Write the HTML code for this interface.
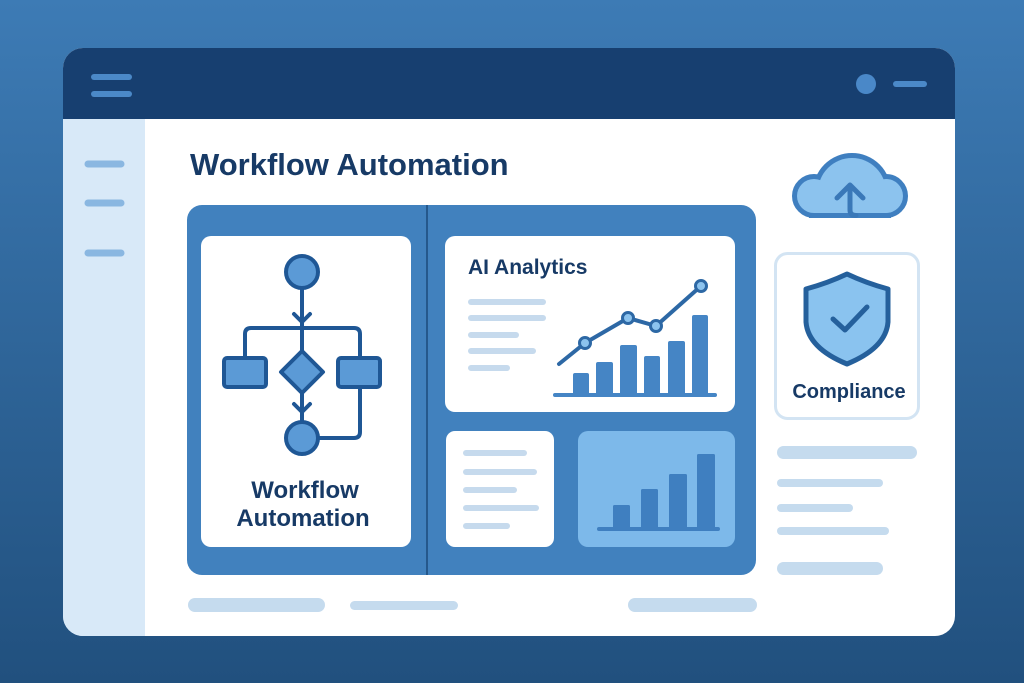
<!DOCTYPE html>
<html>
<head>
<meta charset="utf-8">
<style>
  html,body{margin:0;padding:0;width:1024px;height:683px;overflow:hidden;}
  svg{display:block;}
  text{font-family:"Liberation Sans",Arial,sans-serif;font-weight:bold;fill:#173a66;}
</style>
</head>
<body>
<svg width="1024" height="683" viewBox="0 0 1024 683" xmlns="http://www.w3.org/2000/svg">
  <defs>
    <linearGradient id="bg" x1="0" y1="0" x2="0" y2="1">
      <stop offset="0" stop-color="#3d7bb5"/>
      <stop offset="1" stop-color="#21507e"/>
    </linearGradient>
    <clipPath id="win">
      <rect x="63" y="48" width="892" height="588" rx="20" ry="20"/>
    </clipPath>
    <clipPath id="cloudOuter">
      <rect x="780" y="130" width="140" height="88"/>
    </clipPath>
    <clipPath id="cloudInner">
      <rect x="780" y="130" width="140" height="83"/>
    </clipPath>
  </defs>

  <!-- background -->
  <rect x="0" y="0" width="1024" height="683" fill="url(#bg)"/>

  <!-- window -->
  <g clip-path="url(#win)">
    <rect x="63" y="48" width="892" height="588" fill="#ffffff"/>
    <rect x="63" y="48" width="892" height="71" fill="#173f70"/>
    <rect x="63" y="119" width="82" height="517" fill="#d8e9f8"/>
  </g>

  <!-- header icons -->
  <g stroke="#4b89c8" stroke-width="6" stroke-linecap="round">
    <line x1="94" y1="77" x2="129" y2="77"/>
    <line x1="94" y1="94" x2="129" y2="94"/>
    <line x1="896" y1="84" x2="924" y2="84"/>
  </g>
  <circle cx="866" cy="84" r="10" fill="#4a88c8"/>

  <!-- sidebar lines -->
  <g stroke="#8ab7e1" stroke-width="7" stroke-linecap="round">
    <line x1="88" y1="164" x2="121" y2="164"/>
    <line x1="88" y1="203" x2="121" y2="203"/>
    <line x1="88" y1="253" x2="121" y2="253"/>
  </g>

  <!-- title -->
  <text x="190" y="175" font-size="31">Workflow Automation</text>

  <!-- main panel -->
  <rect x="187" y="205" width="569" height="370" rx="15" fill="#4181be"/>
  <line x1="427" y1="205" x2="427" y2="575" stroke="#25588c" stroke-width="2"/>

  <!-- left card -->
  <rect x="201" y="236" width="210" height="311" rx="10" fill="#ffffff"/>
  <g stroke="#1f5795" stroke-width="4" fill="none" stroke-linecap="round" stroke-linejoin="round">
    <line x1="302" y1="288" x2="302" y2="422"/>
    <path d="M245 358 V334 Q245 328 251 328 H354 Q360 328 360 334 V358"/>
    <path d="M360 387 V432 Q360 438 354 438 H318"/>
    <polyline points="294,314 302,322 310,314"/>
    <polyline points="294,404 302,412 310,404"/>
  </g>
  <g stroke="#1f5795" stroke-width="4" fill="#5b9ad6" stroke-linejoin="round">
    <circle cx="302" cy="272" r="16"/>
    <rect x="224" y="358" width="42" height="29" rx="3"/>
    <rect x="338" y="358" width="42" height="29" rx="3"/>
    <polygon points="302,351 323,372 302,393 281,372"/>
    <circle cx="302" cy="438" r="16"/>
  </g>
  <text x="305" y="498" font-size="24" text-anchor="middle">Workflow</text>
  <text x="303" y="526" font-size="24" text-anchor="middle">Automation</text>

  <!-- AI analytics card -->
  <rect x="445" y="236" width="290" height="176" rx="10" fill="#ffffff"/>
  <text x="468" y="274" font-size="21">AI Analytics</text>
  <g stroke="#c6daed" stroke-width="6" stroke-linecap="round">
    <line x1="471" y1="302" x2="543" y2="302"/>
    <line x1="471" y1="318" x2="543" y2="318"/>
    <line x1="471" y1="335" x2="516" y2="335"/>
    <line x1="471" y1="351" x2="533" y2="351"/>
    <line x1="471" y1="368" x2="507" y2="368"/>
  </g>
  <g fill="#4585c5">
    <rect x="573" y="373" width="16" height="23" rx="2"/>
    <rect x="596" y="362" width="17" height="34" rx="2"/>
    <rect x="620" y="345" width="17" height="51" rx="2"/>
    <rect x="644" y="356" width="16" height="40" rx="2"/>
    <rect x="668" y="341" width="17" height="55" rx="2"/>
    <rect x="692" y="315" width="16" height="81" rx="2"/>
  </g>
  <line x1="555" y1="395" x2="715" y2="395" stroke="#4585c5" stroke-width="4" stroke-linecap="round"/>
  <polyline points="559,364 585,343 628,318 656,326 701,286" fill="none" stroke="#2d68a5" stroke-width="4" stroke-linecap="round" stroke-linejoin="round"/>
  <g fill="#8cc3ee" stroke="#2d68a5" stroke-width="3">
    <circle cx="585" cy="343" r="5.5"/>
    <circle cx="628" cy="318" r="5.5"/>
    <circle cx="656" cy="326" r="5.5"/>
    <circle cx="701" cy="286" r="5.5"/>
  </g>

  <!-- bottom-left small card -->
  <rect x="446" y="431" width="108" height="116" rx="9" fill="#ffffff"/>
  <g stroke="#c6daed" stroke-width="6" stroke-linecap="round">
    <line x1="466" y1="453" x2="524" y2="453"/>
    <line x1="466" y1="472" x2="534" y2="472"/>
    <line x1="466" y1="490" x2="514" y2="490"/>
    <line x1="466" y1="508" x2="536" y2="508"/>
    <line x1="466" y1="526" x2="507" y2="526"/>
  </g>

  <!-- bottom-right chart card -->
  <rect x="578" y="431" width="157" height="116" rx="10" fill="#7db9ea"/>
  <g fill="#3f7fc0">
    <rect x="613" y="505" width="17" height="25" rx="1.5"/>
    <rect x="641" y="489" width="17" height="41" rx="1.5"/>
    <rect x="669" y="474" width="18" height="56" rx="1.5"/>
    <rect x="697" y="454" width="18" height="76" rx="1.5"/>
  </g>
  <line x1="599" y1="529" x2="718" y2="529" stroke="#3f7fc0" stroke-width="4" stroke-linecap="round"/>

  <!-- cloud -->
  <g clip-path="url(#cloudOuter)">
    <g fill="#3f7fc0" stroke="#3f7fc0" stroke-width="10">
      <circle cx="814" cy="196" r="17"/>
      <circle cx="886" cy="196" r="17"/>
      <circle cx="852" cy="192" r="34"/>
      <rect x="814" y="190" width="72" height="23"/>
    </g>
  </g>
  <g clip-path="url(#cloudInner)">
    <g fill="#8cc3ee">
      <circle cx="814" cy="196" r="17"/>
      <circle cx="886" cy="196" r="17"/>
      <circle cx="852" cy="192" r="34"/>
      <rect x="814" y="190" width="72" height="23"/>
    </g>
  </g>
  <g fill="none" stroke="#3a78b8" stroke-width="5" stroke-linecap="round" stroke-linejoin="round">
    <path d="M850 186 V210 Q850 215.5 856 215.5"/>
    <polyline points="837,198 850,185 863,198"/>
  </g>

  <!-- compliance card -->
  <rect x="775.5" y="253.5" width="143" height="165" rx="12" fill="#ffffff" stroke="#d3e4f3" stroke-width="3"/>
  <path d="M847 274 Q828 283 806 289 L806 322 Q808 348 847 364 Q886 348 888 322 L888 289 Q866 283 847 274 Z" fill="#8ac3ef" stroke="#25609c" stroke-width="5" stroke-linejoin="round"/>
  <polyline points="833,319 845,330 867,307" fill="none" stroke="#25609c" stroke-width="5" stroke-linecap="round" stroke-linejoin="round"/>
  <text x="849" y="398" font-size="20" text-anchor="middle">Compliance</text>

  <!-- right column lines -->
  <g fill="#c5dbee">
    <rect x="777" y="446" width="140" height="13" rx="6.5"/>
    <rect x="777" y="479" width="106" height="8" rx="4"/>
    <rect x="777" y="504" width="76" height="8" rx="4"/>
    <rect x="777" y="527" width="112" height="8" rx="4"/>
    <rect x="777" y="562" width="106" height="13" rx="6.5"/>
  </g>

  <!-- bottom lines -->
  <g fill="#c5dbee">
    <rect x="188" y="598" width="137" height="14" rx="7"/>
    <rect x="350" y="601" width="108" height="9" rx="4.5"/>
    <rect x="628" y="598" width="129" height="14" rx="7"/>
  </g>
</svg>
</body>
</html>
